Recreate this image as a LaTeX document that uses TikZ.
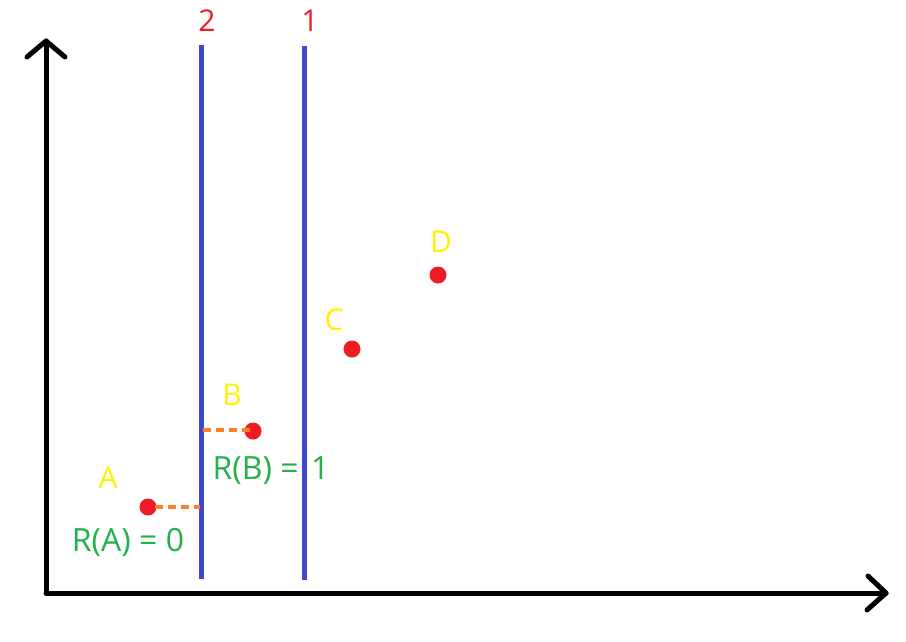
\documentclass[tikz,border=0pt]{standalone}
\usepackage{fontspec}
\setmainfont{Open Sans}
\definecolor{pblue}{HTML}{3F48CC}
\definecolor{pred}{HTML}{ED1C24}
\definecolor{pyellow}{HTML}{FFF200}
\definecolor{pgreen}{HTML}{22B14C}
\definecolor{porange}{HTML}{FF7F27}
\begin{document}
\begin{tikzpicture}[x=1pt,y=-1pt,
  axis/.style={line width=5pt,black,line cap=round,line join=round},
  sepline/.style={line width=5pt,pblue},
  pt/.style={circle,fill=pred,minimum size=17pt,inner sep=0pt},
  ptlabel/.style={text=pyellow,font=\fontsize{30}{34}\selectfont},
  numlabel/.style={text=pred,font=\fontsize{30}{34}\selectfont},
  rlabel/.style={text=pgreen,font=\fontsize{32}{36}\selectfont},
  proj/.style={line width=4.5pt,porange,dash pattern=on 8pt off 5pt}]
\useasboundingbox (0,0) rectangle (906,641);
% axes
\coordinate (O) at (46,593);
\coordinate (ytip) at (46,41);
\coordinate (xtip) at (886,593);
\draw[axis] (O) -- (ytip);
\draw[axis] (O) -- (xtip);
\draw[axis] (27,57) -- (ytip) -- (65,57);
\draw[axis] (868,576) -- (xtip) -- (867,610);
% result labels
\node[rlabel] (rA) at (128,542) {R(A) = 0};
\node[rlabel] (rB) at (271,471) {R(B) = \hspace{4pt}1};
% split lines
\coordinate (l2top) at (201,45);
\coordinate (l2bot) at (201,579);
\coordinate (l1top) at (304,46);
\coordinate (l1bot) at (304,580);
\draw[sepline] (l2top) -- (l2bot);
\draw[sepline] (l1top) -- (l1bot);
\node[numlabel] (n2) at (207,21) {2};
\node[numlabel] (n1) at (310,21) {1};
% points
\node[pt] (A) at (148,507) {};
\node[pt] (B) at (253,431) {};
\node[pt] (C) at (352,349) {};
\node[pt] (D) at (438,275) {};
\node[ptlabel] (lA) at (108,478) {A};
\node[ptlabel] (lB) at (232,395) {B};
\node[ptlabel] (lC) at (334,320) {C};
\node[ptlabel] (lD) at (441,242) {D};
% projections
\coordinate (pA) at (200,507);
\coordinate (pB) at (203,430);
\draw[proj] ([xshift=7pt]A.center) -- (pA);
\draw[proj] (pB) -- ([xshift=-2pt]B.center |- pB);
\end{tikzpicture}
\end{document}
